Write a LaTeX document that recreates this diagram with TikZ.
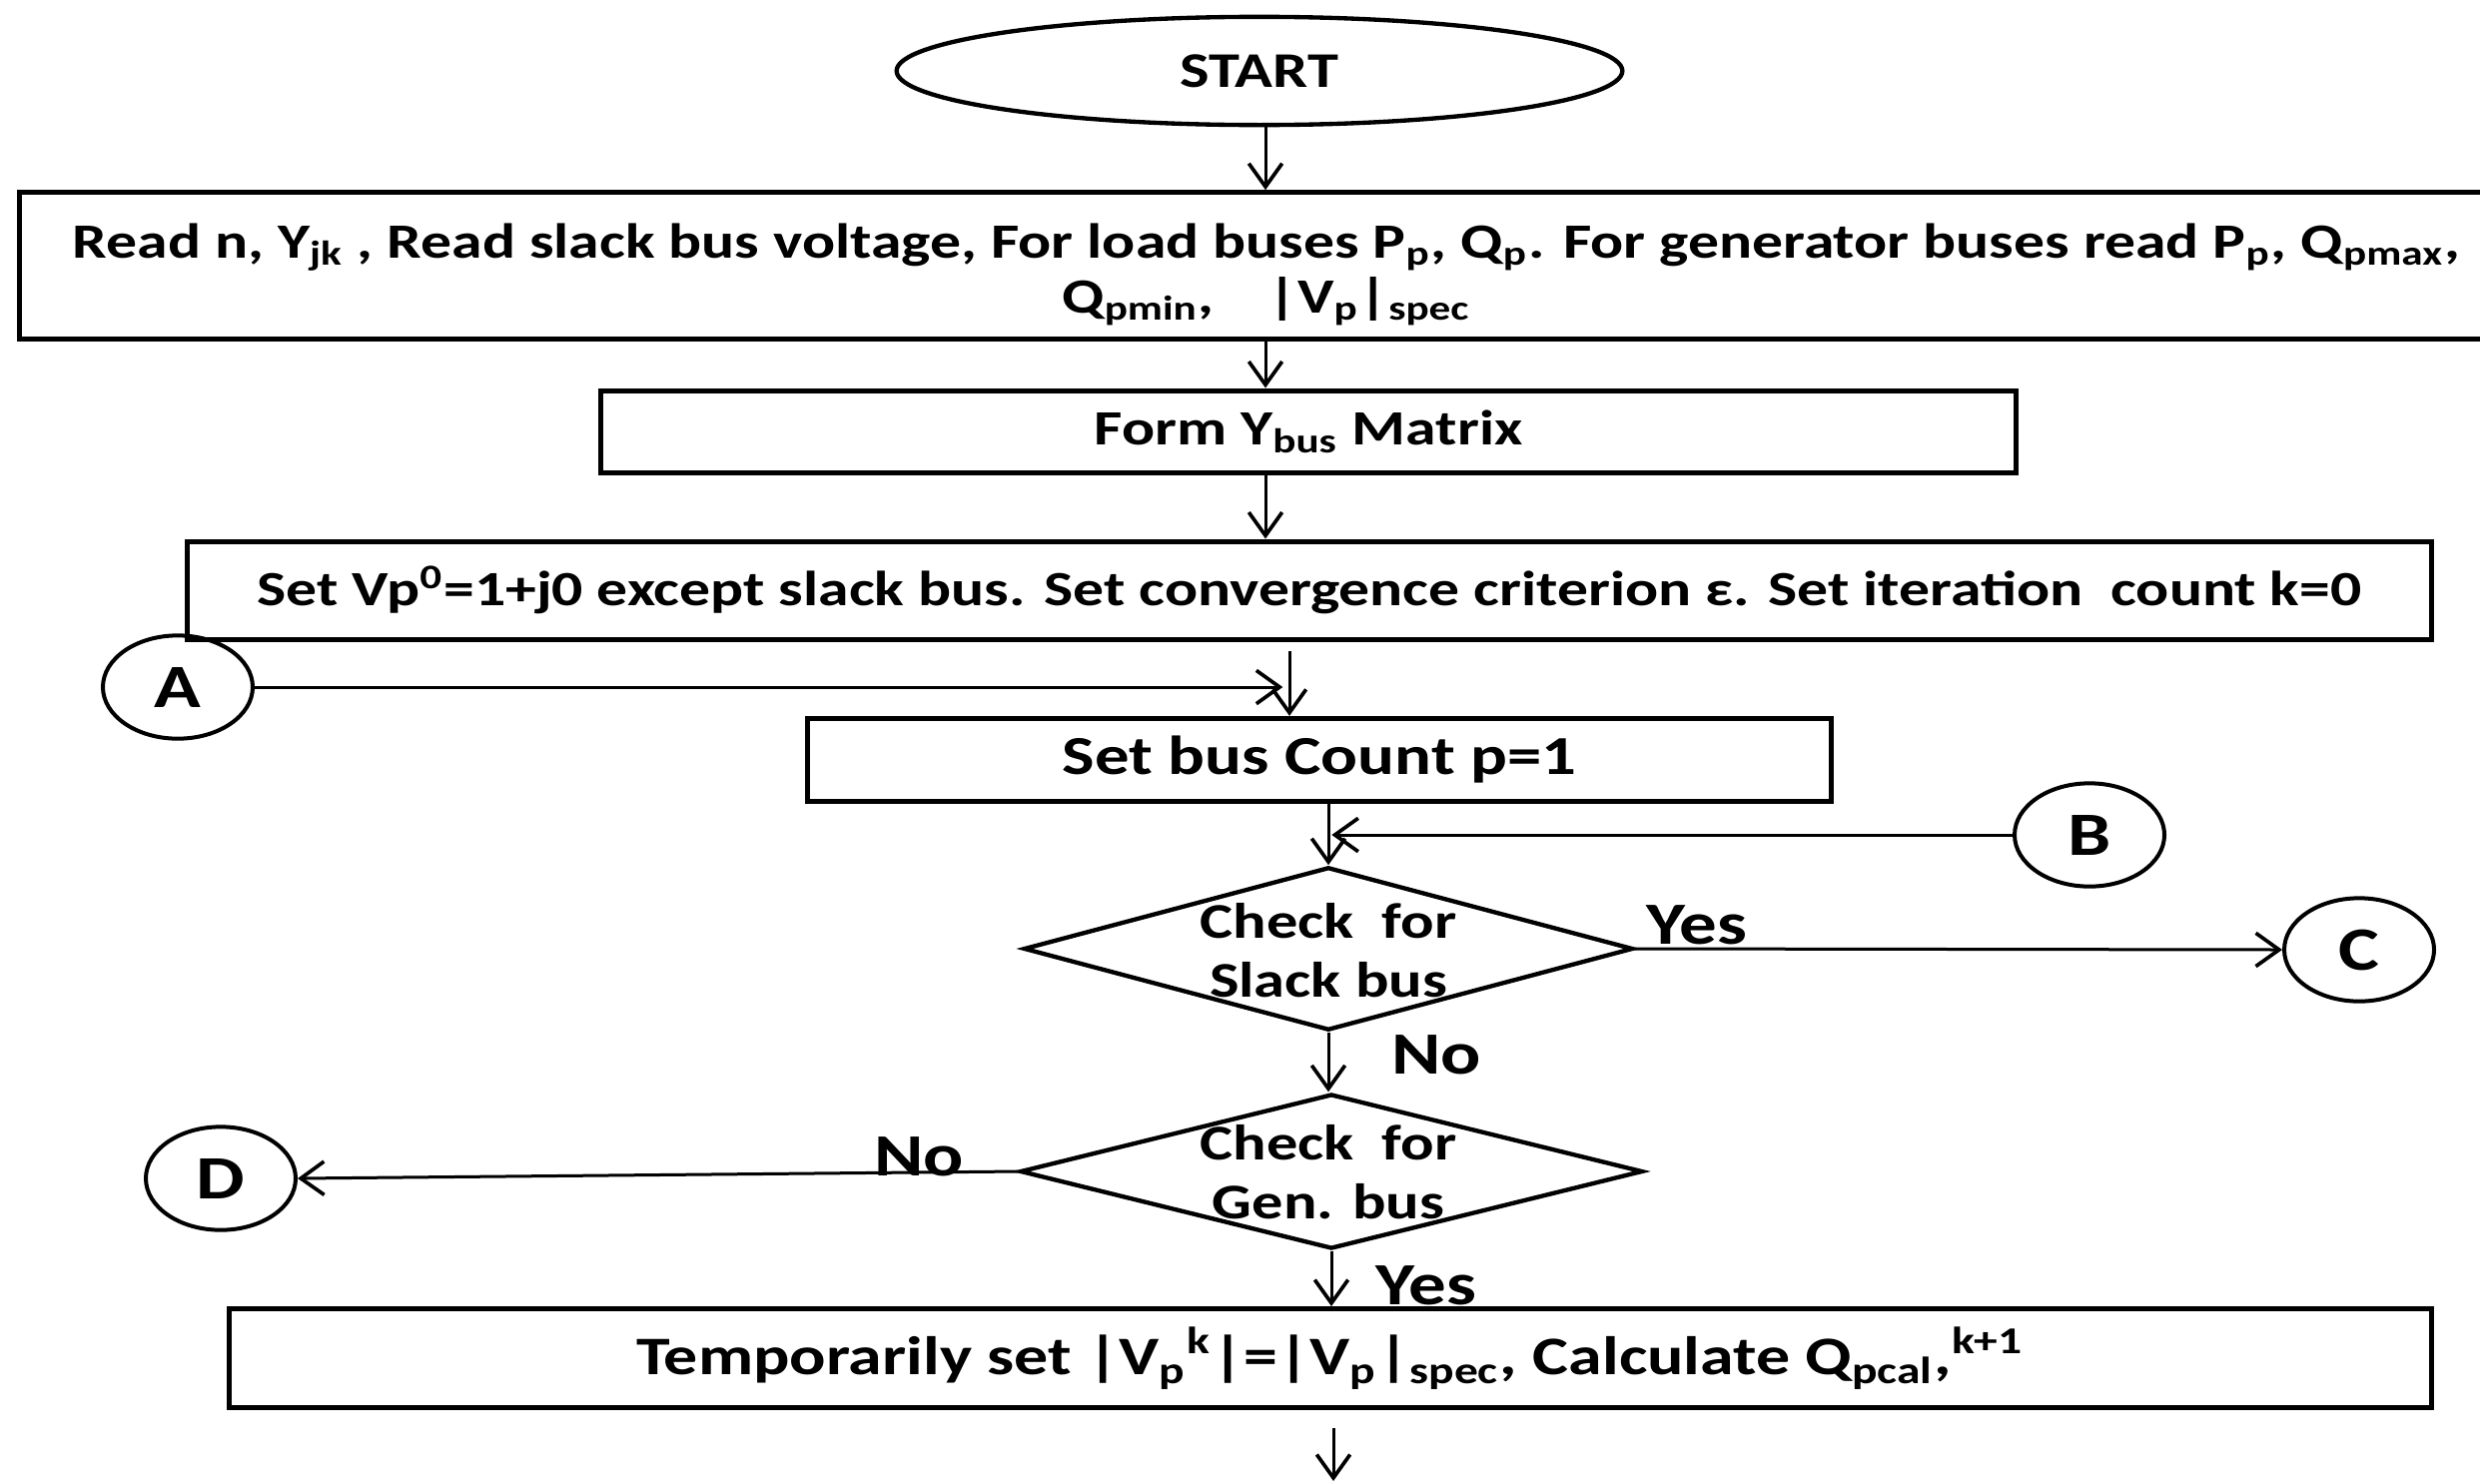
\documentclass[tikz,border=0pt]{standalone}
\usepackage{fontspec}
\setmainfont{Carlito}
\usetikzlibrary{shapes.geometric,arrows.meta}
\newcommand\wx[1]{\scalebox{1.25}[1]{#1}}
\begin{document}
\begin{tikzpicture}[x=0.3pt,y=-0.3pt,
  boxst/.style={draw, rectangle, line width=1.5pt, inner sep=0pt, align=center},
  ftxt/.style={font=\bfseries\fontsize{14.8}{17.5}\selectfont},
  conn/.style={draw, ellipse, line width=1.2pt, minimum width=45pt, minimum height=31pt, inner sep=0pt, font=\bfseries\fontsize{18.5}{18.5}\selectfont},
  dec/.style={draw, diamond, line width=1.3pt, inner sep=0pt},
  dectxt/.style={align=center, inner sep=0pt, font=\bfseries\fontsize{15}{17.7}\selectfont},
  arr/.style={line width=0.9pt, -{Straight Barb[length=7pt,width=10pt,line width=1.1pt]}},
  lbl/.style={font=\bfseries\fontsize{18}{18}\selectfont, inner sep=0pt}]
\useasboundingbox (0,0) rectangle (2483,1485);
\node[draw, ellipse, line width=1.3pt, minimum width=218pt, minimum height=32.5pt, inner sep=0pt, font=\bfseries\fontsize{15}{15}\selectfont] (start) at (1261,71) {\wx{START}};
\node[boxst, minimum width=741pt, minimum height=44pt] (b1) at (1254,266) {};
\node[ftxt, align=center, inner sep=0pt] (b1t) at (1268,275)
  {\wx{Read n, Y\textsubscript{jk} , Read slack bus voltage, For load buses P\textsubscript{p}, Q\textsubscript{p}. For generator buses read P\textsubscript{p}, Q\textsubscript{pmax},}\\[-1pt]
   \wx{Q\textsubscript{pmin},\hspace{13pt}|V\textsubscript{p}|\textsubscript{spec}}};
\node[boxst, ftxt, minimum width=425pt, minimum height=24.6pt] (b2) at (1310,432) {\wx{Form Y\textsubscript{bus} Matrix}};
\node[boxst, ftxt, minimum width=674pt, minimum height=29.4pt] (b3) at (1311,591)
  {\wx{Set Vp\textsuperscript{0}=1+j0 except slack bus. Set convergence criterion ε. Set iteration\ \ count k=0}};
\node[boxst, font=\bfseries\fontsize{16.5}{16.5}\selectfont, minimum width=307.5pt, minimum height=25pt] (b4) at (1321,761) {\wx{Set bus Count p=1}};
\node[dec, minimum width=183pt, minimum height=49pt] (d1) at (1330,950) {};
\node[dectxt] (d1t) at (1330,952) {\wx{Check\ \ for}\\\wx{Slack bus}};
\node[dec, minimum width=187pt, minimum height=46.5pt] (d2) at (1333,1173) {};
\node[dectxt] (d2t) at (1330,1174) {\wx{Check\ \ for}\\\wx{Gen. bus}};
\node[boxst, font=\bfseries\fontsize{16.3}{16.3}\selectfont, minimum width=661.5pt, minimum height=29.7pt] (b5) at (1332,1360)
  {\wx{Temporarily set |V\textsubscript{p}\textsuperscript{k}|=|V\textsubscript{p}|\textsubscript{spec}, Calculate Q\textsubscript{pcal},\textsuperscript{k+1}}};
\node[conn] (A) at (178,688) {\wx{A}};
\node[conn] (B) at (2092,836) {\wx{B}};
\node[conn] (C) at (2362,951) {\wx{C}};
\node[conn] (D) at (221,1180) {\wx{D}};
\coordinate (j1) at (1291,652);
\coordinate (e1) at (1335,1430);
\coordinate (e2) at (1335,1483);
\draw[arr] (start.south -| 1267,0) -- (b1.north -| 1267,0);
\draw[arr] (b1.south -| 1267,0) -- (b2.north -| 1267,0);
\draw[arr] (b2.south -| 1267,0) -- (b3.north -| 1267,0);
\draw[arr] (j1) -- (j1 |- b4.north);
\draw[arr, shorten >=2pt] (A.east) -- (A.east -| j1);
\draw[arr] (b4.south -| d1.north) -- (d1.north);
\draw[arr, shorten >=1pt] (B.west) -- (B.west -| d1.north);
\draw[arr] (d1.east) -- (C.west);
\draw[arr] (d1.south) -- (d2.north -| d1.south);
\draw[arr] (d2.west) -- (D.east);
\draw[arr] (d2.south) -- (b5.north -| d2.south);
\draw[arr] (e1) -- (e2);
\node[lbl] (y1) at (1699,926) {\wx{Yes}};
\node[lbl] (n1) at (1438,1056) {\wx{No}};
\node[lbl] (n2) at (920,1158) {\wx{No}};
\node[lbl] (y2) at (1428,1287) {\wx{Yes}};
\end{tikzpicture}
\end{document}
